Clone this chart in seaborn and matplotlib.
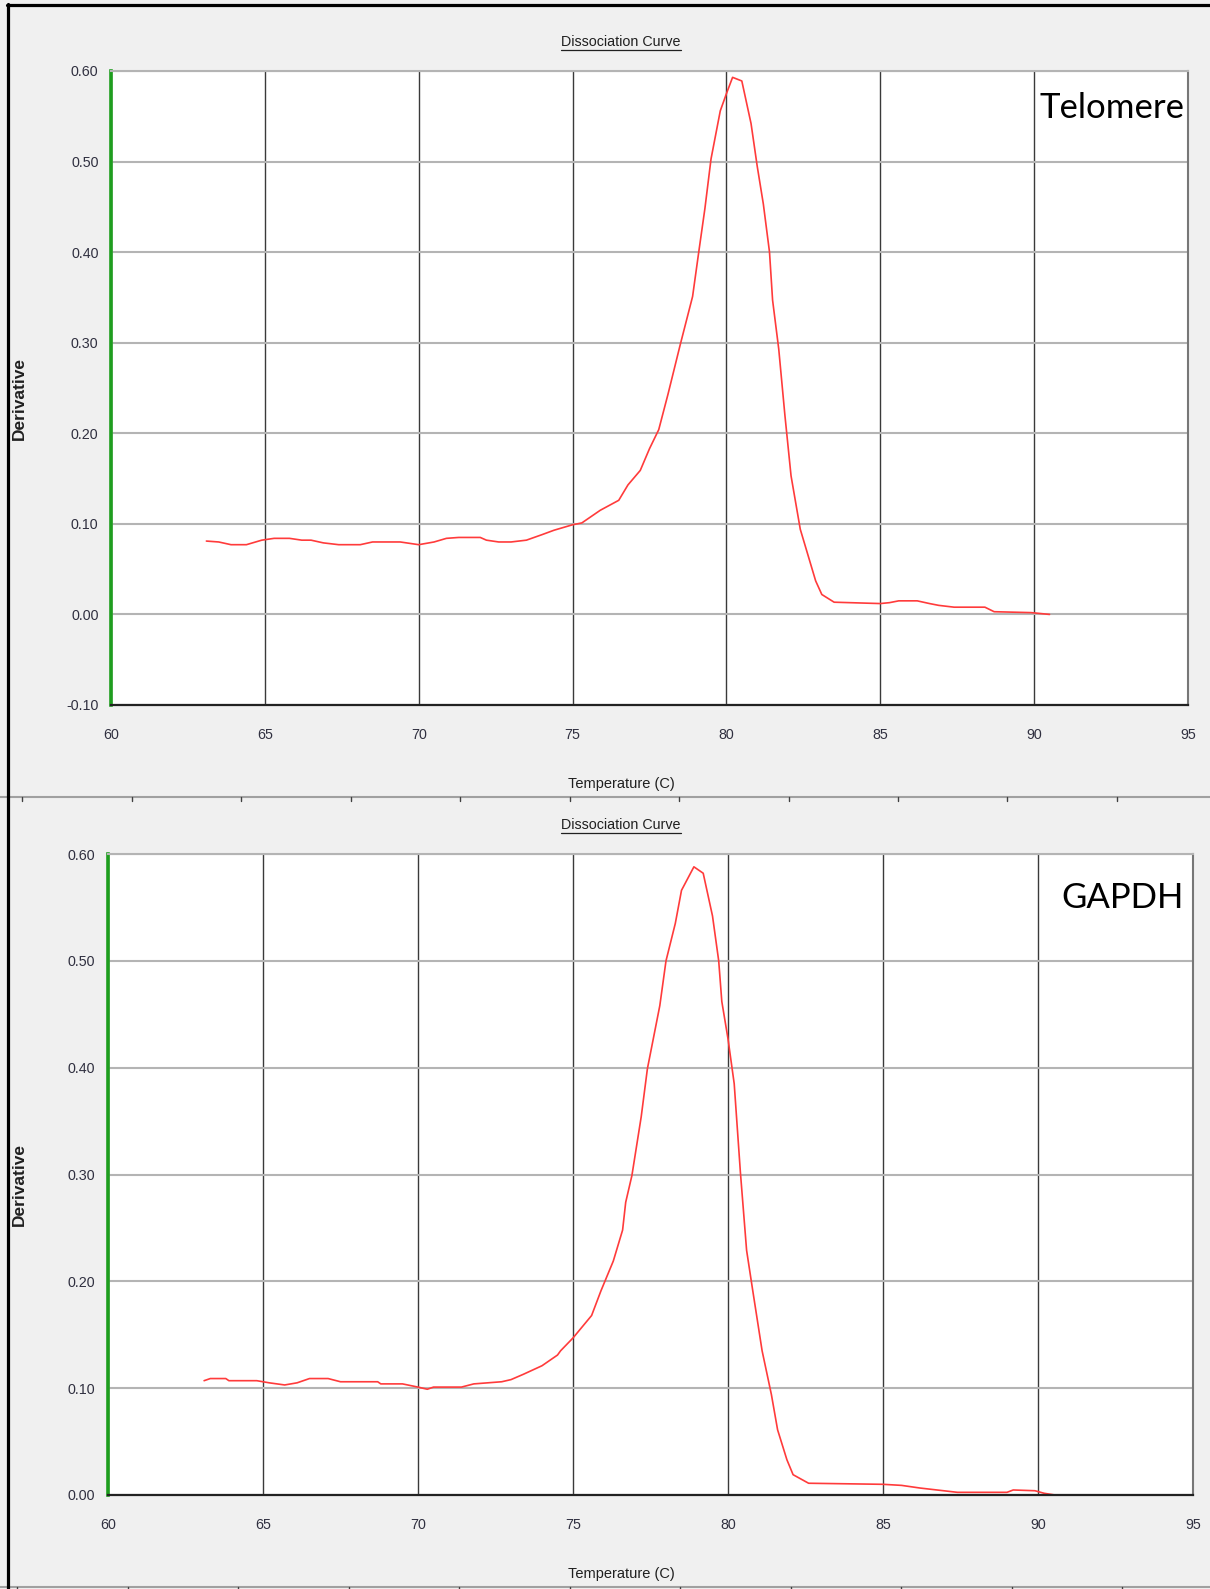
"""
Dissociation (melt) curves for Telomere and GAPDH primers
"""

import matplotlib.pyplot as plt
import seaborn as sns
import numpy as np
from matplotlib.lines import Line2D
from matplotlib.ticker import FormatStrFormatter

sns.set_theme(style='white')
NARROW = ['Liberation Sans Narrow', 'Liberation Sans', 'DejaVu Sans']
plt.rcParams['font.family'] = NARROW

# ---------------------------------------------------------------------------
# data
# ---------------------------------------------------------------------------
telo_temp = [63.1, 63.5, 63.9, 64.4, 64.9, 65.3, 65.8, 66.2, 66.5, 66.9, 67.4, 68.1,
             68.5, 69.4, 70.0, 70.5, 70.9, 71.3, 72.0, 72.2, 72.6, 73.0, 73.5, 74.0,
             74.4, 75.0, 75.3, 75.9, 76.5, 76.8, 77.2, 77.5, 77.8, 78.1, 78.5, 78.9,
             79.1, 79.3, 79.5, 79.8, 80.0, 80.2, 80.5, 80.8, 81.0, 81.2, 81.4, 81.5,
             81.7, 81.9, 82.1, 82.4, 82.9, 83.1, 83.5, 85.0, 85.3, 85.6, 86.2, 86.6,
             86.9, 87.4, 88.4, 88.7, 89.9, 90.5]
telo_deriv = [0.081, 0.080, 0.077, 0.077, 0.082, 0.084, 0.084, 0.082, 0.082, 0.079, 0.077, 0.077,
              0.080, 0.080, 0.077, 0.080, 0.084, 0.085, 0.085, 0.082, 0.080, 0.080, 0.082, 0.088,
              0.093, 0.099, 0.101, 0.115, 0.126, 0.143, 0.159, 0.183, 0.204, 0.243, 0.298, 0.351,
              0.400, 0.448, 0.503, 0.556, 0.575, 0.593, 0.589, 0.542, 0.495, 0.453, 0.400, 0.347,
              0.293, 0.220, 0.153, 0.094, 0.037, 0.022, 0.0135, 0.012, 0.013, 0.015, 0.015, 0.012,
              0.010, 0.008, 0.008, 0.003, 0.002, 0.000]

gapdh_temp = [63.1, 63.3, 63.8, 63.9, 64.8, 65.2, 65.7, 66.1, 66.5, 67.1, 67.5, 68.7,
              68.8, 69.5, 70.0, 70.3, 70.5, 71.4, 71.8, 72.7, 73.0, 73.4, 74.0, 74.5,
              74.6, 75.0, 75.6, 75.9, 76.3, 76.6, 76.7, 76.9, 77.2, 77.4, 77.8, 78.0,
              78.3, 78.5, 78.9, 79.2, 79.5, 79.7, 79.8, 80.0, 80.2, 80.4, 80.6, 80.8,
              81.1, 81.4, 81.6, 81.9, 82.1, 82.6, 85.0, 85.6, 86.2, 87.4, 89.0, 89.2,
              89.9, 90.2, 90.55]
gapdh_deriv = [0.107, 0.109, 0.109, 0.107, 0.107, 0.105, 0.103, 0.105, 0.109, 0.109, 0.106, 0.106,
               0.104, 0.104, 0.101, 0.099, 0.101, 0.101, 0.104, 0.106, 0.108, 0.113, 0.121, 0.131,
               0.135, 0.147, 0.168, 0.191, 0.219, 0.248, 0.274, 0.299, 0.354, 0.399, 0.458, 0.500,
               0.535, 0.566, 0.588, 0.582, 0.542, 0.500, 0.462, 0.427, 0.385, 0.302, 0.229, 0.191,
               0.135, 0.094, 0.061, 0.033, 0.019, 0.011, 0.010, 0.009, 0.0065, 0.0025, 0.0025, 0.0047,
               0.004, 0.0016, 0.000]

x_ticks = [60, 65, 70, 75, 80, 85, 90, 95]
telo_yticks = [-0.10, 0.00, 0.10, 0.20, 0.30, 0.40, 0.50, 0.60]
gapdh_yticks = [0.00, 0.10, 0.20, 0.30, 0.40, 0.50, 0.60]

# ---------------------------------------------------------------------------
# layout in pixels (figure is 1210 x 1589)
# ---------------------------------------------------------------------------
W, H = 1210, 1589
BG = '#F0F0F0'


def fx(px):
    return px / W


def fy(py):
    return 1 - py / H


fig = plt.figure(figsize=(W / 100, H / 100), dpi=100, facecolor=BG)


def draw_panel(box, temps, derivs, yticks, name, name_pos, title_y, xlabel_y, ylabel_y):
    left, top, right, bottom = box
    ax = fig.add_axes([fx(left), fy(bottom), (right - left) / W, (bottom - top) / H])
    ax.set_facecolor('white')
    ax.set_axisbelow(True)

    sns.lineplot(x=temps, y=derivs, ax=ax, color='#FF3B3B', linewidth=1.2,
                 sort=False, estimator=None)

    ax.set_xlim(60, 95)
    ax.set_ylim(yticks[0], yticks[-1])
    ax.set_xticks(x_ticks)
    ax.set_yticks(yticks)
    ax.yaxis.set_major_formatter(FormatStrFormatter('%.2f'))
    ax.grid(axis='y', color='#B4B4B4', linewidth=1.5)
    ax.grid(axis='x', color='#3A3A3A', linewidth=1.0)
    ax.tick_params(axis='y', length=0, pad=9, labelsize=10.3, labelcolor='#303040')
    ax.tick_params(axis='x', length=0, pad=16.5, labelsize=10.3, labelcolor='#303040')
    ax.set_xlabel('')
    ax.set_ylabel('')

    ax.spines['left'].set_color('#1E9E1E')
    ax.spines['left'].set_linewidth(2.6)
    ax.spines['bottom'].set_color('#222222')
    ax.spines['bottom'].set_linewidth(1.6)
    ax.spines['top'].set_color('#B4B4B4')
    ax.spines['top'].set_linewidth(1.5)
    ax.spines['right'].set_color('#777777')
    ax.spines['right'].set_linewidth(1.5)

    # gene name in the upper right corner
    fig.text(fx(name_pos[0]), fy(name_pos[1]), name, ha='right', va='baseline',
             fontsize=25, family=['Lato', 'DejaVu Sans'], color='black')

    # titles / axis labels placed like the instrument software
    t = fig.text(fx(621), fy(title_y), 'Dissociation Curve', ha='center', va='center',
                 fontsize=10.3, color='#202020')
    fig.text(fx(621), fy(xlabel_y), 'Temperature (C)', ha='center', va='center',
             fontsize=10.5, color='#202020')
    fig.text(fx(19), fy(ylabel_y), 'Derivative', ha='center', va='center', rotation=90,
             fontsize=12.5, fontweight='bold', color='#202020',
             family=['Liberation Sans', 'DejaVu Sans'])
    return ax, t


ax1, t1 = draw_panel((111, 71, 1188, 705), telo_temp, telo_deriv, telo_yticks,
                     'Telomere', (1184, 118), 42, 784, 398)
ax2, t2 = draw_panel((108, 854, 1193, 1495), gapdh_temp, gapdh_deriv, gapdh_yticks,
                     'GAPDH', (1184, 908), 825, 1574, 1184)

# underline the titles
fig.canvas.draw()
renderer = fig.canvas.get_renderer()
for t in (t1, t2):
    bb = t.get_window_extent(renderer)
    fig.add_artist(Line2D([bb.x0 / W, bb.x1 / W], [(bb.y0 - 1) / H] * 2,
                          color='#202020', linewidth=0.9))

# panel separators with their little tick marks
for sep_y, start, step in [(797, 22, 109.5), (1587, 17, 110.5)]:
    fig.add_artist(Line2D([0, 1], [fy(sep_y)] * 2, color='#A0A0A0', linewidth=1.5))
    for tx in np.arange(start, W, step):
        fig.add_artist(Line2D([fx(tx)] * 2, [fy(sep_y), fy(sep_y + 4)],
                              color='#404040', linewidth=1.0))

# black screenshot frame (left and top edges)
fig.add_artist(Line2D([fx(8), fx(8)], [fy(4), 0], color='black', linewidth=2.3))
fig.add_artist(Line2D([fx(7), 1], [fy(5), fy(5)], color='black', linewidth=2.3))

fig.savefig('out.png', dpi=100, facecolor=fig.get_facecolor())
